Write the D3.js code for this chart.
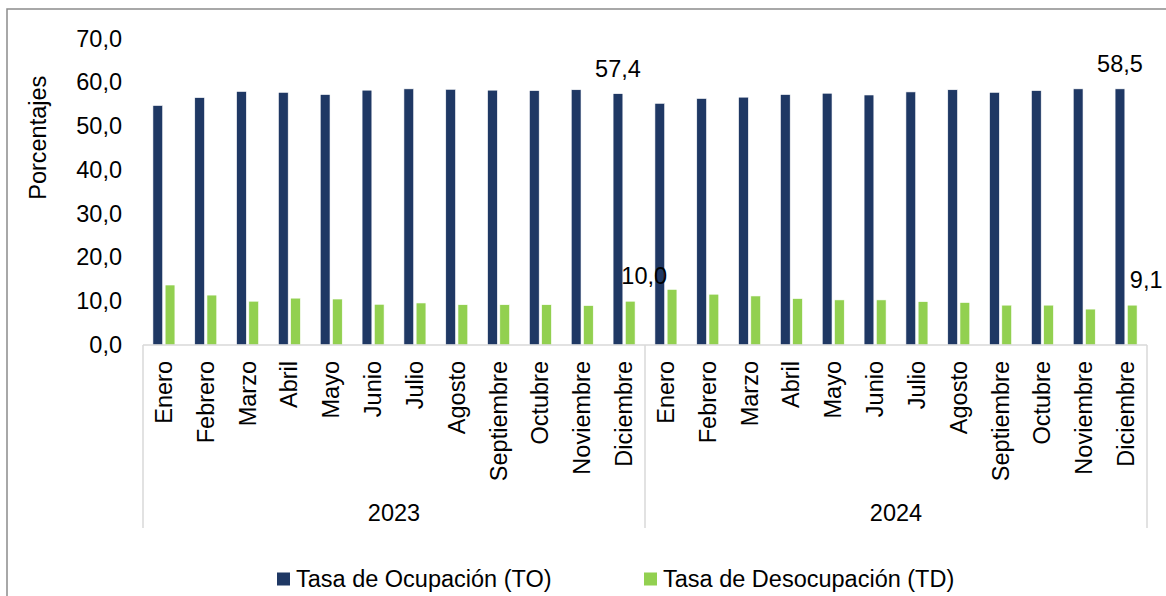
<!DOCTYPE html>
<html>
<head>
<meta charset="utf-8">
<script src="https://cdn.jsdelivr.net/npm/d3@7"></script>
<style>
  body { margin: 0; background: #fff; }
  svg { display: block; font-family: "Liberation Sans", Arial, sans-serif; }
  .tick text { fill: #000; }
</style>
</head>
<body>
<svg id="chart" width="1166" height="596"></svg>
<script>
// data
const years = ['2023', '2024'];
const months = ['Enero', 'Febrero', 'Marzo', 'Abril', 'Mayo', 'Junio', 'Julio',
    'Agosto', 'Septiembre', 'Octubre', 'Noviembre', 'Diciembre'];
const tasaOcupacion = [
    54.7, 56.5, 57.9, 57.7, 57.2, 58.2, 58.5, 58.4, 58.2, 58.1, 58.3, 57.4,
    55.2, 56.3, 56.6, 57.2, 57.5, 57.1, 57.8, 58.3, 57.7, 58.1, 58.5, 58.5
];
const tasaDesocupacion = [
    13.7, 11.4, 10.0, 10.7, 10.5, 9.3, 9.6, 9.2, 9.2, 9.2, 9.0, 10.0,
    12.7, 11.6, 11.2, 10.6, 10.3, 10.3, 9.9, 9.7, 9.1, 9.1, 8.2, 9.1
];
const yTicks = [0, 10, 20, 30, 40, 50, 60, 70];
const labelledIdx = [11, 23];   // only the December bars carry a value label

const series = [
    { key: 'TO', name: 'Tasa de Ocupación (TO)', values: tasaOcupacion, color: '#1F3864' },
    { key: 'TD', name: 'Tasa de Desocupación (TD)', values: tasaDesocupacion, color: '#92D050' }
];

const rows = [];
years.forEach((yr, yi) => months.forEach((m, mi) => {
    const i = yi * months.length + mi;
    rows.push({ id: yr + '-' + m, year: yr, month: m, i });
}));

const svg = d3.select('#chart');
const fontSize = 23.5;
const plot = { left: 143, right: 1147, top: 38.5, bottom: 345, axisBottom: 528 };

const es = d3.formatLocale({ decimal: ',', thousands: '.', grouping: [3], currency: ['', ' €'] });
const fmt = es.format('.1f');

const x = d3.scaleBand()
    .domain(rows.map(d => d.id))
    .range([plot.left, plot.right]);

const xs = d3.scaleBand()
    .domain(series.map(s => s.key))
    .range([-11, 11])
    .paddingInner(0.2);

const y = d3.scaleLinear()
    .domain([0, 70])
    .range([plot.bottom, plot.top]);

// outer chart frame
svg.append('rect')
    .attr('x', 7).attr('y', 9)
    .attr('width', 1180).attr('height', 620)
    .attr('fill', 'none')
    .attr('stroke', '#8c8c8c')
    .attr('stroke-width', 1.5);

// y axis (labels only)
const yAxis = svg.append('g')
    .attr('transform', `translate(${plot.left - 21},0)`)
    .call(d3.axisLeft(y).tickValues(yTicks).tickFormat(fmt).tickSize(0).tickPadding(0));
yAxis.select('.domain').remove();
yAxis.selectAll('text')
    .attr('font-size', fontSize)
    .attr('font-family', '"Liberation Sans", Arial, sans-serif');

svg.append('text')
    .attr('transform', `translate(38,${(plot.top + plot.bottom) / 2 - 54}) rotate(-90)`)
    .attr('text-anchor', 'middle')
    .attr('dominant-baseline', 'central')
    .attr('font-size', fontSize)
    .text('Porcentajes');

// bars
series.forEach(s => {
    svg.append('g')
        .selectAll('rect')
        .data(rows)
        .join('rect')
        .attr('x', d => x(d.id) + x.bandwidth() / 2 + xs(s.key))
        .attr('width', xs.bandwidth())
        .attr('y', d => y(s.values[d.i]))
        .attr('height', d => y(0) - y(s.values[d.i]))
        .attr('fill', s.color)
        .attr('stroke', '#ffffff')
        .attr('stroke-width', 0.6);
});

// value labels for December bars
const labelShift = { TO: { dx: 0, dy: -25 }, TD: { dx: 14, dy: -25 } };
series.forEach(s => {
    svg.append('g')
        .selectAll('text')
        .data(rows.filter(d => labelledIdx.includes(d.i)))
        .join('text')
        .attr('x', d => x(d.id) + x.bandwidth() / 2 + xs(s.key) + xs.bandwidth() / 2 + labelShift[s.key].dx)
        .attr('y', d => y(s.values[d.i]) + labelShift[s.key].dy)
        .attr('text-anchor', 'middle')
        .attr('dominant-baseline', 'central')
        .attr('font-size', fontSize)
        .text(d => fmt(s.values[d.i]));
});

// category axis: baseline and year separators
const axisColor = '#d9d9d9';
svg.append('line')
    .attr('x1', plot.left).attr('x2', plot.right)
    .attr('y1', plot.bottom).attr('y2', plot.bottom)
    .attr('stroke', axisColor).attr('stroke-width', 1.5);

const yearEdges = [x(rows[0].id)].concat(years.map((yr, yi) => {
    const last = rows[(yi + 1) * months.length - 1];
    return x(last.id) + x.bandwidth();
}));
svg.append('g')
    .selectAll('line')
    .data(yearEdges)
    .join('line')
    .attr('x1', d => d).attr('x2', d => d)
    .attr('y1', plot.bottom).attr('y2', plot.axisBottom)
    .attr('stroke', axisColor).attr('stroke-width', 1.5);

// month labels
svg.append('g')
    .selectAll('text')
    .data(rows)
    .join('text')
    .attr('transform', d => `translate(${x(d.id) + x.bandwidth() / 2},${plot.bottom + 16}) rotate(-90)`)
    .attr('text-anchor', 'end')
    .attr('dominant-baseline', 'central')
    .attr('font-size', fontSize)
    .text(d => d.month);

// year labels
svg.append('g')
    .selectAll('text')
    .data(years)
    .join('text')
    .attr('x', (d, i) => (yearEdges[i] + yearEdges[i + 1]) / 2)
    .attr('y', 513)
    .attr('text-anchor', 'middle')
    .attr('dominant-baseline', 'central')
    .attr('font-size', fontSize)
    .text(d => d);

// legend
const legendX = [277, 644];
const legend = svg.append('g')
    .selectAll('g')
    .data(series)
    .join('g')
    .attr('transform', (d, i) => `translate(${legendX[i]},579)`);
legend.append('rect')
    .attr('x', 0).attr('y', -6.5)
    .attr('width', 13).attr('height', 13)
    .attr('fill', d => d.color);
legend.append('text')
    .attr('x', 19)
    .attr('dominant-baseline', 'central')
    .attr('font-size', fontSize)
    .text(d => d.name);
</script>
</body>
</html>
